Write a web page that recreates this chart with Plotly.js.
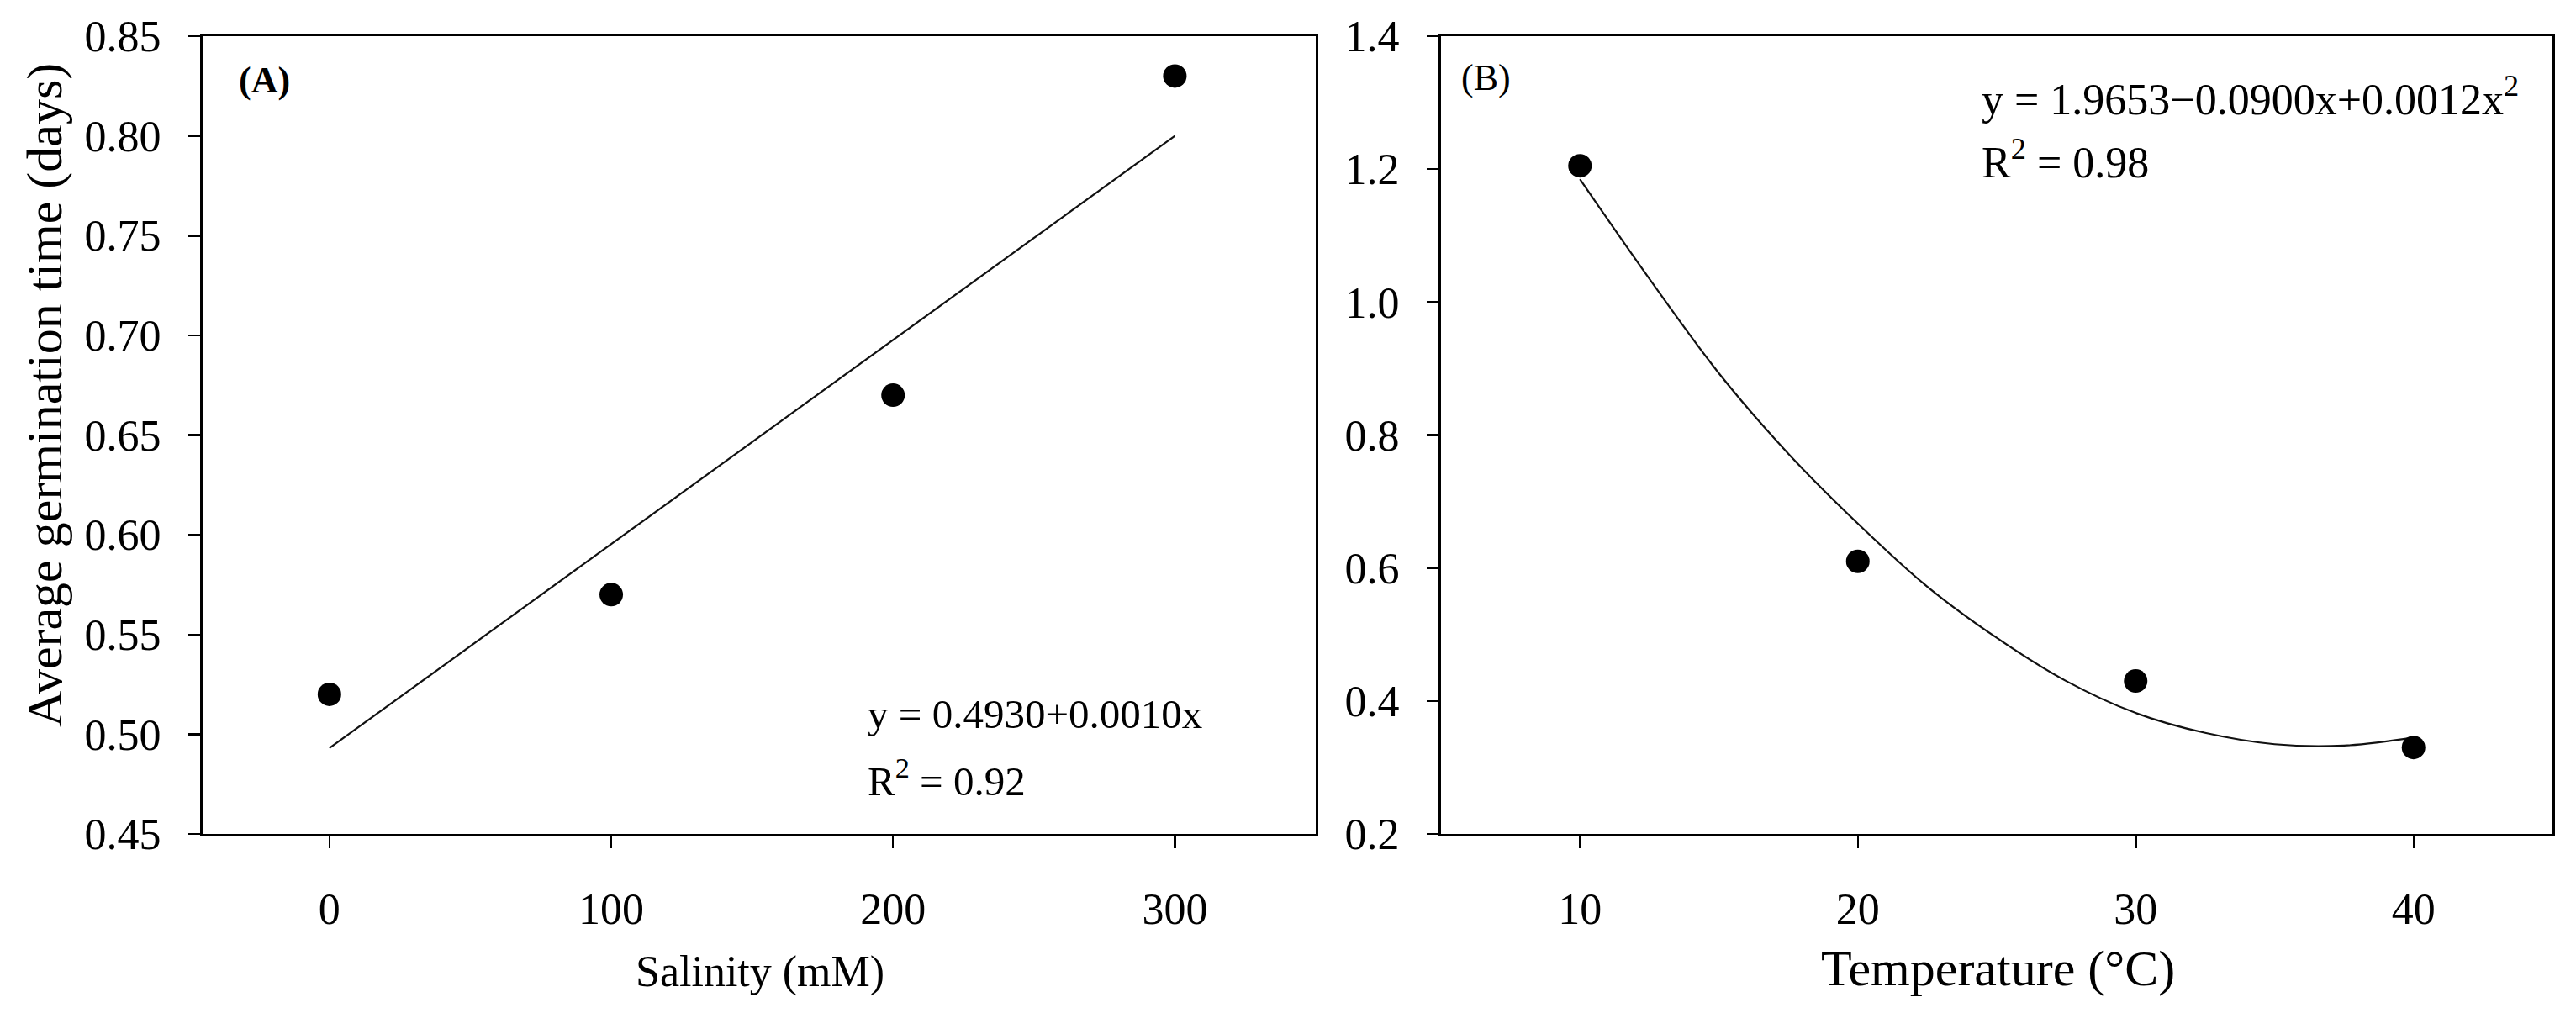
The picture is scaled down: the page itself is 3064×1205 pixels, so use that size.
<!DOCTYPE html>
<html>
<head>
<meta charset="utf-8">
<script src="https://cdn.plot.ly/plotly-3.0.1.min.js"></script>
<style>
  html, body { margin: 0; padding: 0; background: #fff; }
  #chart { width: 3064px; height: 1205px; }
</style>
</head>
<body>
<div id="chart"></div>
<script>
// panel A: salinity
const salinity = [0, 100, 200, 300];
const timeSalinity = [0.52, 0.57, 0.67, 0.83];
const salinityFitX = [0, 300];
const salinityFitY = [0.493, 0.800];

// panel B: temperature
const temperature = [10, 20, 30, 40];
const timeTemperature = [1.205, 0.61, 0.43, 0.33];
const tempFitX = [10, 12.5, 15, 17.5, 20, 22.5, 25, 27.5, 30, 32.5, 35, 37.5, 40];
const tempFitY = [1.185, 1.035, 0.893, 0.772, 0.667, 0.572, 0.495, 0.430, 0.382, 0.352, 0.335, 0.333, 0.345];

// ticks
const salinityTicks = [0, 100, 200, 300];
const timeATicks = [0.45, 0.50, 0.55, 0.60, 0.65, 0.70, 0.75, 0.80, 0.85];
const timeATickText = ["0.45", "0.50", "0.55", "0.60", "0.65", "0.70", "0.75", "0.80", "0.85"];
const tempTicks = [10, 20, 30, 40];
const timeBTicks = [0.2, 0.4, 0.6, 0.8, 1.0, 1.2, 1.4];
const timeBTickText = ["0.2", "0.4", "0.6", "0.8", "1.0", "1.2", "1.4"];

const serif = "Liberation Serif, Times New Roman, serif";
const W = 3064, H = 1205;
const px = v => v / W;
const py = v => (H - v) / H;

const dots = {color: "#000", size: 28, symbol: "circle"};
const fitLine = {color: "#111", width: 2.2};

const data = [
  {x: salinityFitX, y: salinityFitY, mode: "lines", line: fitLine, xaxis: "x", yaxis: "y", hoverinfo: "skip"},
  {x: salinity, y: timeSalinity, mode: "markers", marker: dots, xaxis: "x", yaxis: "y"},
  {x: tempFitX, y: tempFitY, mode: "lines", line: Object.assign({shape: "spline", smoothing: 1}, fitLine), xaxis: "x2", yaxis: "y2", hoverinfo: "skip"},
  {x: temperature, y: timeTemperature, mode: "markers", marker: dots, xaxis: "x2", yaxis: "y2"}
];

function axisBase() {
  return {
    showline: true, linecolor: "#000", linewidth: 3, mirror: true,
    showgrid: false, zeroline: false,
    ticks: "outside", ticklen: 14, tickwidth: 2.5, tickcolor: "#000",
    tickfont: {family: serif, size: 52, color: "#000"},
    fixedrange: true
  };
}

const yDomain = [py(992), py(43)];

const layout = {
  width: W, height: H,
  margin: {l: 0, r: 0, t: 0, b: 0},
  paper_bgcolor: "#fff", plot_bgcolor: "#fff",
  showlegend: false,
  xaxis: Object.assign(axisBase(), {domain: [px(241), px(1565)], range: [-45, 350],
    tickvals: salinityTicks, ticklabelstandoff: 28, anchor: "y"}),
  yaxis: Object.assign(axisBase(), {domain: yDomain, range: [0.45, 0.85],
    tickvals: timeATicks, ticktext: timeATickText, ticklabelstandoff: 22, anchor: "x"}),
  xaxis2: Object.assign(axisBase(), {domain: [px(1714), px(3036)], range: [5, 45],
    tickvals: tempTicks, ticklabelstandoff: 28, anchor: "y2"}),
  yaxis2: Object.assign(axisBase(), {domain: yDomain, range: [0.2, 1.4],
    tickvals: timeBTicks, ticktext: timeBTickText, ticklabelstandoff: 22, anchor: "x2"}),
  annotations: [
    {text: "Average germination time (days)", textangle: -90, x: px(53), y: py(470),
     xref: "paper", yref: "paper", showarrow: false, xanchor: "center", yanchor: "middle",
     font: {family: serif, size: 60, color: "#000"}},
    {text: "Salinity (mM)", x: px(904), y: py(1156), xref: "paper", yref: "paper",
     showarrow: false, xanchor: "center", yanchor: "middle",
     font: {family: serif, size: 52, color: "#000"}},
    {text: "Temperature (°C)", x: px(2376), y: py(1152), xref: "paper", yref: "paper",
     showarrow: false, xanchor: "center", yanchor: "middle",
     font: {family: serif, size: 60, color: "#000"}},
    {text: "<b>(A)</b>", x: px(314), y: py(95), xref: "paper", yref: "paper",
     showarrow: false, xanchor: "center", yanchor: "middle",
     font: {family: serif, size: 44, color: "#000"}},
    {text: "(B)", x: px(1767), y: py(93), xref: "paper", yref: "paper",
     showarrow: false, xanchor: "center", yanchor: "middle",
     font: {family: serif, size: 44, color: "#000"}},
    {text: "y = 0.4930+0.0010x", x: px(1030), y: py(850), xref: "paper", yref: "paper",
     showarrow: false, xanchor: "left", yanchor: "middle",
     font: {family: serif, size: 49, color: "#000"}},
    {text: "R<sup>2</sup> = 0.92", x: px(1030), y: py(926), xref: "paper", yref: "paper",
     showarrow: false, xanchor: "left", yanchor: "middle",
     font: {family: serif, size: 49, color: "#000"}},
    {text: "y = 1.9653\u22120.0900x+0.0012x<sup>2</sup>", x: px(2355), y: py(114), xref: "paper", yref: "paper",
     showarrow: false, xanchor: "left", yanchor: "middle",
     font: {family: serif, size: 52, color: "#000"}},
    {text: "R<sup>2</sup> = 0.98", x: px(2355), y: py(189), xref: "paper", yref: "paper",
     showarrow: false, xanchor: "left", yanchor: "middle",
     font: {family: serif, size: 52, color: "#000"}}
  ]
};

Plotly.newPlot("chart", data, layout, {staticPlot: true, displayModeBar: false});
</script>
</body>
</html>
